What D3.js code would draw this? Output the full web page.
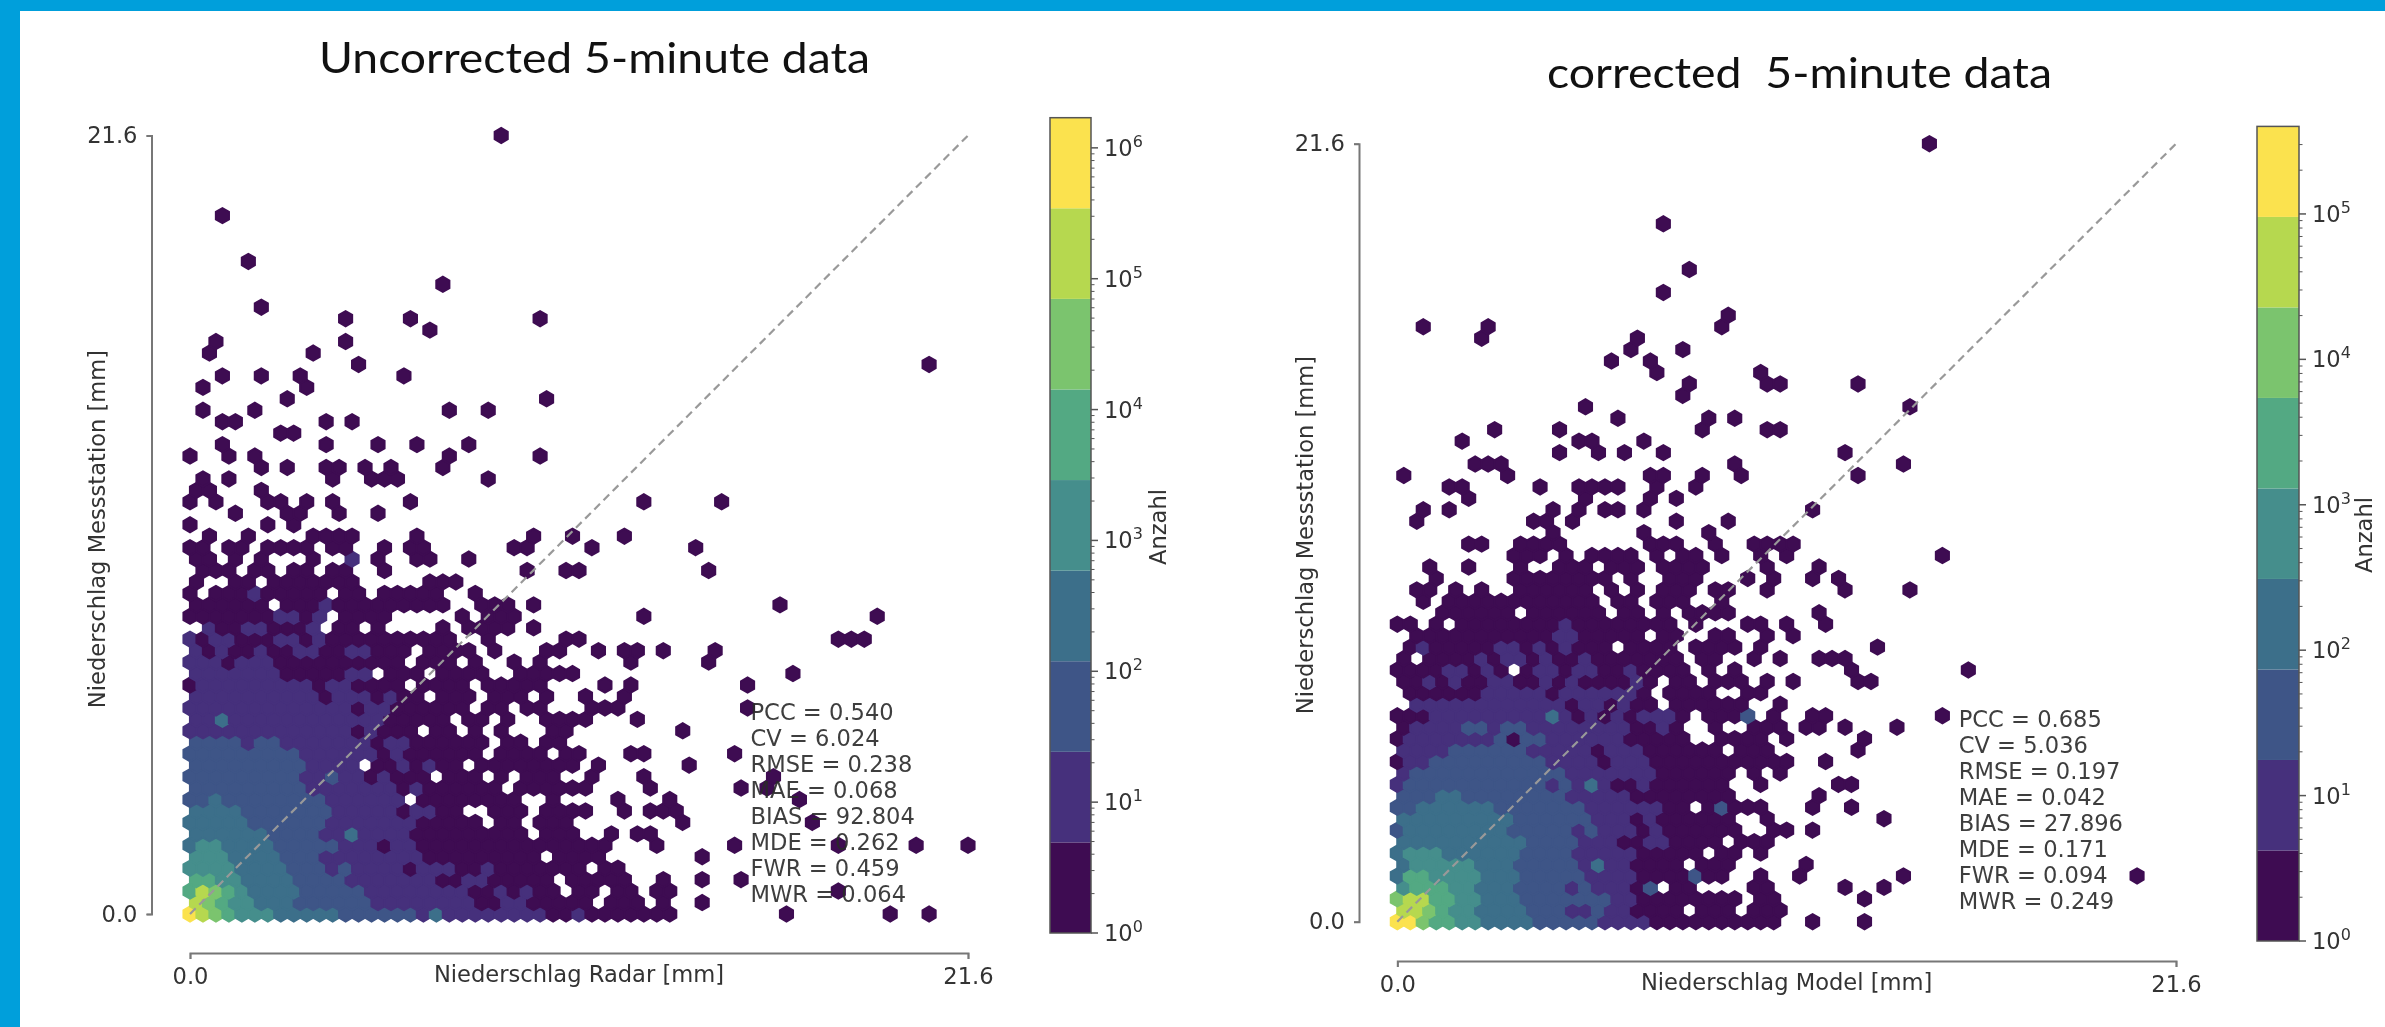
<!DOCTYPE html>
<html>
<head>
<meta charset="utf-8">
<script src="https://cdn.jsdelivr.net/npm/d3@7"></script>
<style>
  body { margin: 0; background: #fff; }
  svg { filter: blur(0.5px); }
  text { font-family: "DejaVu Sans", sans-serif; fill: #333; }
  .title { font-family: Lato, sans-serif; fill: #111; white-space: pre; }
  .axis path, .axis line { stroke: #777; }
  .axis path { stroke-width: 2; }
  .axis line { stroke-width: 1.5; }
  .axis text { font-size: 22.6px; fill: #333; font-family: "DejaVu Sans", sans-serif; }
</style>
</head>
<body>
<svg id="chart" width="2385" height="1027"></svg>
<script>
"use strict";

// hexbin cells, "row|col:class col-col:class"
// class 1 is the darkest colorbar band, 9 the yellow one
let radarBins = [
  "0|0:9 1:8 2:7 3:6 4-6:5 7-11:4 12-17:3 18:2 19:4 20-27:2 28-29:1 30:2 31-37:1 46:1 54:1 57:1",
  "1|0:8 1:7 2:6 3-4:5 5-7:4 8-13:3 14-21:2 22-23:1 24:2 25:2 26-30:1 32-34:1 36:1 39:1",
  "2|0:6 1:8 2:7 3:6 4:5 5-8:4 9-13:3 14-21:2 22-23:1 24:2 25:1 26:2 27-28:1 30-31:1 33-34:1 36-37:1 50:1",
  "3|0-1:6 2-3:5 4-7:4 8-11:3 12-18:2 19-20:1 21-22:2 23-27:1 29-33:1 36:1 39:1 42:1",
  "4|0-3:5 4-7:4 8-10:3 11:2 12:3 13-16:2 17:1 18-20:2 21-22:1 23:2 24-30:1 32-33:1",
  "5|0-2:5 3-6:4 7-9:3 10-17:2 18-26:1 28-31:1 39:1",
  "6|0:4 1-2:5 3-6:4 7-11:3 12-14:2 15:1 16-17:2 18-32:1 36:1 42:1 50:1 56:1 60:1",
  "7|0-5:4 6-9:3 10-11:2 12:4 13-16:2 17-25:1 27-29:1 32:1 34-35:1",
  "8|0-4:4 5-10:3 11-17:2 18-22:1 24-25:1 27-29:1 38:1 48:1",
  "9|0-3:4 4-10:3 11-15:2 16:1 17-18:2 19-20:1 23-25:1 27-30:1 33:1 35-37:1",
  "10|0-1:3 2:4 3-10:3 11-16:2 18-25:1 28:1 33:1 37:1 47:1",
  "11|0-8:3 9-15:2 16:1 17:2 18-23:1 25-30:1 35:1 42:1 44:1",
  "12|0-8:3 9-10:2 11:3 12-13:2 14:1 15:2 16-18:1 20-22:1 24:1 26-28:1 31:1 35:1 45:1",
  "13|0-8:3 9-12:2 14-15:1 16:2 17:1 18:2 19-20:1 22-29:1 31:1 38:1",
  "14|0-8:3 9-14:2 15:1 16:2 17-22:1 24-27:1 29-30:1 34-35:1 42:1",
  "15|0-3:3 4:2 5-6:3 7-13:2 14:1 15-16:2 17-22:1 24-25:1 27-28:1",
  "16|0-12:2 13:1 14:2 15-17:1 19-20:1 22:1 24:1 28-29:1 38:1",
  "17|0-1:2 2:4 3-14:2 15-19:1 21-22:1 24:1 27-30:1 34:1",
  "18|0-12:2 13:1 14-15:2 16-21:1 23-24:1 26-27:1 31-33:1 43:1",
  "19|0-9:2 10:1 11-13:2 14:1 15:2 16-17:1 19-21:1 23-25:1 27:1 30:1 33:1",
  "20|0:1 1-9:2 10:1 11-12:2 13-16:1 18-21:1 23-27:1 32:1 34:1 43:1",
  "21|0-6:2 7-11:1 12-13:2 15-17:1 19-22:1 25-29:1 46:1",
  "22|0-2:2 3:1 4-6:2 7-16:1 18-20:1 22:1 25:1 27:1 34:1 40:1",
  "23|0:2 1:1 2:2 3-4:1 5:2 6-7:1 8-9:2 10-11:1 12-13:2 14-16:1 18-21:1 23:1 27-28:1 31:1 33-34:1 36:1 40:1",
  "24|0:2 1:1 2-3:2 4-6:1 7-8:2 9:1 10:2 11-20:1 23:1 29-30:1 50-52:1",
  "25|1:2 2-3:1 4-5:2 6-8:1 9:2 11-12:1 14:1 19:1 21-24:1 26:1",
  "26|0-6:1 7-8:2 9:1 10:2 12-15:1 21:1 23-25:1 35:1 53:1",
  "27|0-5:1 7-9:1 10:2 11-19:1 22-24:1 26:1 45:1",
  "28|0:1 2-4:1 5:2 6-10:1 12-13:1 15-19:1 22:1",
  "29|0:1 3-4:1 6-12:1 18-20:1",
  "30|1-3:1 5-6:1 8-9:1 11-12:1 15:1 26:1 29-30:1 40:1",
  "31|0-1:1 3:1 5:1 9:1 12:2 14:1 17-18:1 21:1",
  "32|0-1:1 3-4:1 6-9:1 11-12:1 15:1 17-18:1 25-26:1 31:1 39:1",
  "33|1:1 4:1 9-12:1 17:1 26:1 29:1 33:1",
  "34|0:1 6:1 8:1",
  "35|3:1 7-8:1 11:1 14:1",
  "36|0:1 2:1 6-7:1 9:1 11:1 17:1 35:1 41:1",
  "37|0-1:1 5:1",
  "38|1:1 3:1 11:1 14-16:1 23:1",
  "39|5:1 7:1 10-11:1 13:1 15:1 19:1",
  "40|0:1 3:1 5:1 20:1 27:1",
  "41|2:1 10:1 14:1 17:1 21:1",
  "42|7-8:1",
  "43|2-3:1 10:1 12:1",
  "44|1:1 5:1 20:1 23:1",
  "45|7:1 27:1",
  "46|1:1 9:1",
  "47|2:1 5:1 8:1 16:1",
  "48|13:1 57:1",
  "49|1:1 9:1",
  "50|2:1 12:1",
  "51|18:1",
  "52|12:1 17:1 27:1",
  "53|5:1",
  "55|19:1",
  "57|4:1",
  "61|2:1",
  "68|24:1"
];

let modelBins = [
  "0|0-1:9 2:7 3-4:6 5-6:5 7-10:4 11-15:3 16-19:2 20-29:1 32:1 36:1",
  "1|0-1:8 2:7 3:6 4-5:5 6-9:4 10-12:3 13-14:2 15:3 16-17:2 18-21:1 23-25:1 27-29:1",
  "2|0:7 1-2:8 3-4:6 5-6:5 7-9:4 10-16:3 17-18:2 19-26:1 28-29:1 36:1",
  "3|0:5 1-3:6 4-5:5 6-8:4 9-12:3 13:2 14:3 15-17:2 18:1 19:3 21-22:1 27-28:1 34:1 37:1",
  "4|0:4 1-2:6 3-6:5 7-9:4 10-14:3 15-18:2 19-22:1 23:3 24-25:1 28:1 31:1 39:1 57:1",
  "5|0:4 1-5:5 6-8:4 9-13:3 14:2 15:4 16-17:2 18-21:1 23-25:1 31:1",
  "6|0:4 1-3:5 4-9:4 10-13:3 14-18:2 19-23:1 25-26:1 28:1",
  "7|0-9:4 10-13:3 14-16:2 17-18:1 19-20:2 21-24:1 26-28:1",
  "8|0:3 1-8:4 9-13:3 14:2 15:3 16-18:2 19:1 20:2 21-26:1 29-30:1 32:1",
  "9|0-8:4 9-14:3 15-17:2 18:1 19:2 20-25:1 28:1 37:1",
  "10|0-1:3 2-7:4 8-14:3 15-20:2 21-22:1 24:1 25:3 26-28:1 32:1 35:1",
  "11|0-2:3 3-4:4 5-12:3 13-17:2 18-25:1 32:1",
  "12|0:2 1-11:3 12:2 13:3 14:2 15:4 16:2 17-18:1 19:2 20-25:1 28:1 34-35:1",
  "13|0:2 1-12:3 13-19:2 20-25:1 27:1 29:1",
  "14|0:1 1-2:2 3-11:3 12-15:2 16:1 17-19:2 20-30:1 33:1",
  "15|0-3:2 4-9:3 10-14:2 15:1 16-18:2 19-24:1 26-28:1 35:1",
  "16|0:1 1-7:2 8:3 9:1 10-11:3 12-17:2 18-22:1 25-28:1 30:1 36:1",
  "17|0:1 1-4:2 5-6:3 7:2 8-9:3 10-17:2 18-19:1 20:2 21:1 24:1 27-29:1 31-32:1 34:1 38:1",
  "18|0-2:1 3-11:2 12:4 13:2 14:1 15:2 16:1 17:2 18:1 19-21:2 22:1 24-26:1 27:3 29:1 32-33:1 42:1",
  "19|1-12:2 13:1 14-15:2 16:1 17:2 18-19:1 21-26:1 29:1",
  "20|1-6:1 7-11:2 12:1 13-18:2 19:1 21-24:1 27-28:1",
  "21|0-1:1 2:2 3:1 4:2 5-6:1 7-8:2 9-10:1 11:2 12:1 13:2 14-17:1 18:2 19:1 21-22:1 24-26:1 28:1 30:1 35-36:1",
  "22|0-3:1 4-5:2 6:1 7:2 8:1 10:1 11-12:2 13:1 14-15:2 16-17:1 18:2 19-22:1 24:1 26:1 35:1 44:1",
  "23|0:1 2-5:1 6:2 7:1 8-9:2 10:1 11:2 12-13:1 14:2 15-21:1 23-24:1 27:1 29:1 32-34:1",
  "24|1:1 2:2 3-7:1 8-9:2 10:1 11:2 12:1 13:2 14-16:1 18-21:1 23-26:1 28:1 37:1",
  "25|1-11:1 12-13:2 14-18:1 20-21:1 24-25:1 28:1 30:1",
  "26|0-1:1 3:1 5-12:1 13:2 14-21:1 23:1 27-28:1 30:1 33:1",
  "27|3-8:1 10-15:1 17-18:1 20:1 22-25:1 32:1",
  "28|2:1 4-15:1 17-18:1 20-22:1 25:1",
  "29|1-2:1 4:1 6:1 9-14:1 16:1 18:1 20-22:1 24-25:1 28:1 34:1 39:1",
  "30|3:1 9-16:1 18:1 21-23:1 27:1 29:1 32:1 34:1",
  "31|2:1 5:1 9:1 12-14:1 16-18:1 20-23:1 28:1 32:1",
  "32|9-11:1 13:1 15-18:1 20:1 22-23:1 25:1 28:1 30:1 42:1",
  "33|5-6:1 9-12:1 19-21:1 24:1 27-30:1",
  "34|12:1 19:1 24:1",
  "35|1:1 10-11:1 13:1 21:1 25:1",
  "36|2:1 4:1 12:1 14:1 16-17:1 19:1 32:1",
  "37|5:1 14:1 19:1 21:1",
  "38|4-5:1 11:1 14-17:1 20:1 23:1",
  "39|0:1 8:1 19-20:1 23:1 26:1 35:1",
  "40|6-8:1 26:1 39:1",
  "41|12:1 15:1 17:1 20:1 34:1",
  "42|5:1 14-15:1 19:1",
  "43|7:1 12:1 23:1 28-29:1",
  "44|17:1 24:1 26:1",
  "45|14:1 39:1",
  "46|22:1",
  "47|22:1 28-29:1 35:1",
  "48|20:1 28:1",
  "49|16:1 19:1",
  "50|18:1 22:1",
  "51|6:1 18:1",
  "52|2:1 7:1 25:1",
  "53|25:1",
  "55|20:1",
  "57|22:1",
  "61|20:1",
  "68|41:1"
];

let radarStats = ["PCC = 0.540", "CV = 6.024", "RMSE = 0.238", "MAE = 0.068", "BIAS = 92.804", "MDE = 0.262", "FWR = 0.459", "MWR = 0.064"];
let modelStats = ["PCC = 0.685", "CV = 5.036", "RMSE = 0.197", "MAE = 0.042", "BIAS = 27.896", "MDE = 0.171", "FWR = 0.094", "MWR = 0.249"];

let axisMax = 21.6;
let axisTicks = [0, 21.6];
let gridCols = 60;
let gridRows = 68;

let bandClasses = [1, 2, 3, 4, 5, 6, 7, 8, 9];
let bandColors = ["#3e0c52", "#46307c", "#3e5587", "#3c6f8a", "#458e8c", "#53a983", "#7bc46e", "#b6d84f", "#fbe24e"];

let radarCountMax = 1.7e6; // top of the colorbar
let modelCountMax = 4e5;
let radarDecades = [0, 1, 2, 3, 4, 5, 6];
let modelDecades = [0, 1, 2, 3, 4, 5];

let svg = d3.select("#chart");
let bandColor = d3.scaleOrdinal(bandClasses, bandColors);

// frame of the slide
svg.append("rect").attr("width", 2385).attr("height", 11).attr("fill", "#009fdb");
svg.append("rect").attr("width", 20).attr("height", 1027).attr("fill", "#009fdb");

function parseBins(rows) {
  let cells = [];
  rows.forEach(function(row) {
    let parts = row.split("|");
    let j = +parts[0];
    parts[1].split(" ").forEach(function(token) {
      let pair = token.split(":");
      let range = pair[0].split("-").map(Number);
      let last = range.length > 1 ? range[1] : range[0];
      for (let i = range[0]; i <= last; i++) {
        cells.push({
          x: (i + (j % 2 ? 0.5 : 0)) * axisMax / gridCols,
          y: j * axisMax / gridRows,
          band: +pair[1]
        });
      }
    });
  });
  return cells;
}

function drawPanel(opts) {
  let x = d3.scaleLinear().domain([0, axisMax]).range([opts.left, opts.right]);
  let y = d3.scaleLinear().domain([0, axisMax]).range([opts.bottom, opts.top]);

  // draw hexagons
  let radius = (y(0) - y(axisMax / gridRows)) * 2 / 3;
  let corners = d3.range(6).map(function(k) {
    let angle = Math.PI / 3 * k;
    return [radius * Math.sin(angle), radius * Math.cos(angle)];
  });
  let hexPath = d3.line()(corners) + "Z";

  svg.append("g").selectAll("path")
    .data(parseBins(opts.bins))
    .enter().append("path")
    .attr("d", hexPath)
    .attr("transform", d => `translate(${x(d.x)}, ${y(d.y)})`)
    .attr("fill", d => bandColor(d.band))
    .attr("stroke", d => bandColor(d.band))
    .attr("stroke-width", 1.9);

  // draw identity line
  svg.append("line")
    .attr("x1", x(0))
    .attr("y1", y(0))
    .attr("x2", x(axisMax))
    .attr("y2", y(axisMax))
    .attr("stroke", "#999")
    .attr("stroke-width", 2.2)
    .attr("stroke-dasharray", "8 5");

  // draw axes, offset from the data area
  let xAxis = d3.axisBottom(x).tickValues(axisTicks).tickFormat(d3.format(".1f")).tickSizeOuter(0).tickSize(6).tickPadding(9);
  let yAxis = d3.axisLeft(y).tickValues(axisTicks).tickFormat(d3.format(".1f")).tickSizeOuter(0).tickSize(5).tickPadding(9);

  svg.append("g")
    .attr("class", "axis")
    .attr("transform", `translate(0, ${opts.xAxisY})`)
    .call(xAxis);

  svg.append("g")
    .attr("class", "axis")
    .attr("transform", `translate(${opts.yAxisX}, 0)`)
    .call(yAxis);

  svg.append("text")
    .attr("x", (opts.left + opts.right) / 2)
    .attr("y", opts.xAxisY + 29)
    .style("text-anchor", "middle")
    .style("font-size", "22.6px")
    .text(opts.xLabel);

  svg.append("text")
    .attr("transform", `translate(${opts.yLabelX}, ${opts.yLabelY}) rotate(-90)`)
    .style("text-anchor", "middle")
    .style("font-size", "22.6px")
    .text("Niederschlag Messstation [mm]");

  // statistics
  svg.append("g").selectAll("text")
    .data(opts.stats)
    .enter().append("text")
    .attr("x", opts.statsX)
    .attr("y", (d, k) => opts.statsY + k * 26)
    .style("font-size", "22.6px")
    .style("fill", "#2a2a2a")
    .style("opacity", 0.9)
    .text(d => d);

  // title
  svg.append("text")
    .attr("class", "title")
    .attr("x", opts.titleX)
    .attr("y", opts.titleY)
    .attr("textLength", opts.titleWidth)
    .attr("lengthAdjust", "spacingAndGlyphs")
    .style("font-size", "43px")
    .text(opts.title);

  drawColorbar(opts);
}

function drawColorbar(opts) {
  let cb = d3.scaleLog().domain([1, opts.countMax]).range([opts.cbBottom, opts.cbTop]);
  let logMax = Math.log10(opts.countMax);
  let bandValue = k => Math.pow(10, k * logMax / bandClasses.length);

  svg.append("g").selectAll("rect")
    .data(bandClasses)
    .enter().append("rect")
    .attr("x", opts.cbLeft)
    .attr("width", opts.cbWidth)
    .attr("y", d => cb(bandValue(d)))
    .attr("height", d => cb(bandValue(d - 1)) - cb(bandValue(d)))
    .attr("fill", d => bandColor(d));

  svg.append("rect")
    .attr("x", opts.cbLeft)
    .attr("y", opts.cbTop)
    .attr("width", opts.cbWidth)
    .attr("height", opts.cbBottom - opts.cbTop)
    .attr("fill", "none")
    .attr("stroke", "#555")
    .attr("stroke-width", 1.5);

  // minor ticks
  let minor = [];
  opts.decades.forEach(function(e) {
    d3.range(2, 10).forEach(function(m) {
      let v = m * Math.pow(10, e);
      if (v < opts.countMax) minor.push(v);
    });
  });

  let cbGroup = svg.append("g")
    .attr("transform", `translate(${opts.cbLeft + opts.cbWidth}, 0)`);

  cbGroup.selectAll(".minor")
    .data(minor)
    .enter().append("line")
    .attr("class", "minor")
    .attr("x2", 3.5)
    .attr("y1", d => cb(d))
    .attr("y2", d => cb(d))
    .attr("stroke", "#555");

  cbGroup.selectAll(".major")
    .data(opts.decades)
    .enter().append("line")
    .attr("class", "major")
    .attr("x2", 7)
    .attr("y1", d => cb(Math.pow(10, d)))
    .attr("y2", d => cb(Math.pow(10, d)))
    .attr("stroke", "#555")
    .attr("stroke-width", 1.5);

  let labels = cbGroup.selectAll(".cbLabel")
    .data(opts.decades)
    .enter().append("text")
    .attr("class", "cbLabel")
    .attr("x", 13)
    .attr("y", d => cb(Math.pow(10, d)) + 8)
    .style("font-size", "22.6px");

  labels.append("tspan").text("10");
  labels.append("tspan")
    .attr("dy", -9)
    .style("font-size", "16px")
    .text(d => d);

  svg.append("text")
    .attr("transform", `translate(${opts.cbLabelX}, ${opts.cbLabelY}) rotate(-90)`)
    .style("text-anchor", "middle")
    .style("font-size", "22.6px")
    .text("Anzahl");
}

drawPanel({
  bins: radarBins,
  stats: radarStats,
  title: "Uncorrected 5-minute data",
  xLabel: "Niederschlag Radar [mm]",
  left: 190, right: 968, bottom: 914, top: 135.5,
  xAxisY: 953, yAxisX: 151.5,
  yLabelX: 105, yLabelY: 529,
  statsX: 750.5, statsY: 720,
  titleX: 319, titleY: 73, titleWidth: 551,
  countMax: radarCountMax, decades: radarDecades,
  cbLeft: 1050, cbWidth: 41, cbTop: 117.7, cbBottom: 933,
  cbLabelX: 1166, cbLabelY: 527
});

drawPanel({
  bins: modelBins,
  stats: modelStats,
  title: "corrected  5-minute data",
  xLabel: "Niederschlag Model [mm]",
  left: 1397.3, right: 2176, bottom: 921.7, top: 143.7,
  xAxisY: 961, yAxisX: 1359,
  yLabelX: 1313, yLabelY: 535,
  statsX: 1958.7, statsY: 727.3,
  titleX: 1547, titleY: 88, titleWidth: 505,
  countMax: modelCountMax, decades: modelDecades,
  cbLeft: 2257, cbWidth: 42, cbTop: 126.4, cbBottom: 941,
  cbLabelX: 2372, cbLabelY: 535
});
</script>
</body>
</html>
